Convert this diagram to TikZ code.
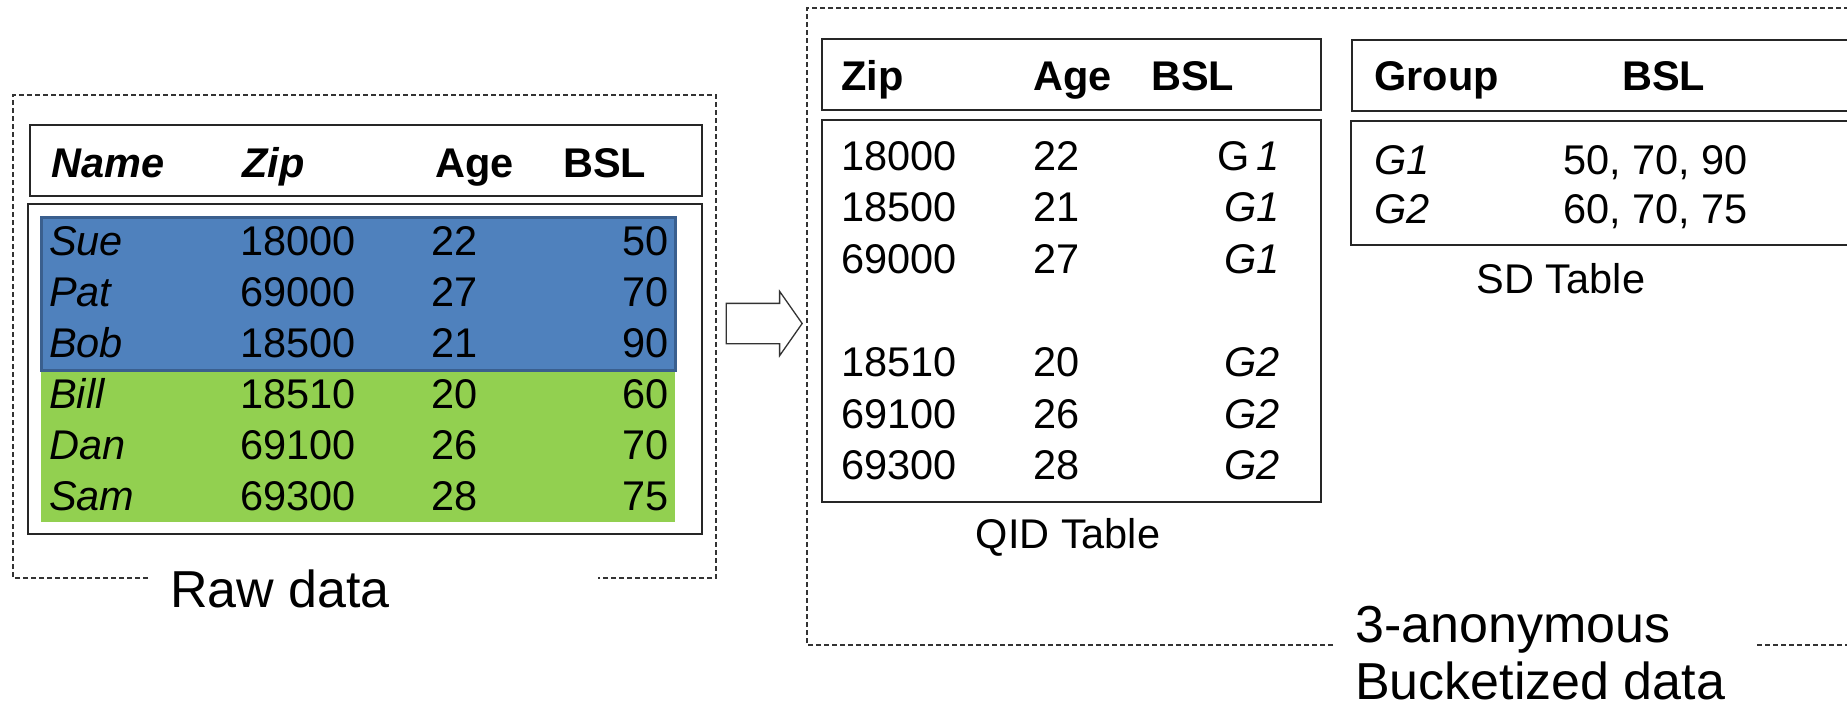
\documentclass[tikz,border=0pt]{standalone}
\usepackage{fontspec}
\setmainfont{Liberation Sans}
\usepackage{xcolor}
\usetikzlibrary{shapes.arrows,positioning,fit}

\definecolor{grpblue}{HTML}{4F81BD}
\definecolor{grpblueedge}{HTML}{3A5F8E}
\definecolor{grpgreen}{HTML}{92D050}

\begin{document}
\begin{tikzpicture}[
  x=1pt, y=-1pt,
  tbl/.style={draw=black!85, line width=2pt, inner sep=0pt},
  grp/.style={fill=#1, inner sep=0pt},
  frame/.style={draw=black!80, line width=1.3pt, dash pattern=on 5pt off 3pt},
  cell/.style={inner sep=0pt, font=\fontsize{41.5}{50}\selectfont},
  hd/.style={inner sep=0pt, font=\fontsize{41.5}{50}\selectfont\bfseries},
  biglbl/.style={inner sep=0pt, font=\fontsize{52}{63}\selectfont}
]
  \clip (0,0) rectangle (1847,704);

  % raw data
  \draw[frame] (148,578) -| (13,95) -| (716,578) -- (598,578);
  \node[tbl, fit={(30,125) (702,196)}]  (rawhead) {};
  \node[tbl, fit={(28,204) (702,534)}]  (rawbody) {};
  \node[grp=grpgreen, fit={(41,370) (675,522)}] (grp2) {};
  \node[grp=grpblue, draw=grpblueedge, line width=3pt, fit={(41,217) (675,370)}] (grp1) {};

  \node[hd, anchor=base west] (hname) at (51,177)  {\textit{Name}};
  \node[hd, anchor=base west] (hzip)  at (242,177) {\textit{Zip}};
  \node[hd, anchor=base west] (hage)  at (435,177) {Age};
  \node[hd, anchor=base west] (hbsl)  at (563,177) {BSL};

  \foreach \nm/\zp/\ag/\bs [count=\i from 0] in
      {Sue/18000/22/50, Pat/69000/27/70, Bob/18500/21/90,
       Bill/18510/20/60, Dan/69100/26/70, Sam/69300/28/75} {
    \node[cell, anchor=base west] (rawname\i) at (49, {255+51*\i})  {\textit{\nm}};
    \node[cell, anchor=base west] (rawzip\i)  at (240, {255+51*\i}) {\zp};
    \node[cell, anchor=base west] (rawage\i)  at (431, {255+51*\i}) {\ag};
    \node[cell, anchor=base east] (rawbsl\i)  at (669, {255+51*\i}) {\bs};
  }
  \node[biglbl, anchor=base west] (rawlbl) at (170,607) {Raw data};

  % block arrow
  \node[single arrow, draw=black!80, line width=1.3pt, inner xsep=0pt, inner ysep=19.5pt,
        minimum height=76pt, anchor=tail,
        single arrow head extend=12pt, single arrow tip angle=110] (toarrow) at (725.5,323.5) {};

  % bucketized data
  \draw[frame] (1333,645) -- (807,645) -- (807,8) -- (1900,8);
  \draw[frame] (1757,645) -- (1900,645);

  \node[tbl, fit={(822,39) (1321,110)}]  (qidhead) {};
  \node[tbl, fit={(822,120) (1321,502)}] (qidbody) {};
  \node[hd, anchor=base west] (qzip) at (841,90)  {Zip};
  \node[hd, anchor=base west] (qage) at (1033,90) {Age};
  \node[hd, anchor=base west] (qbsl) at (1151,90) {BSL};
  \foreach \zp/\ag/\gid/\k in
      {18000/22/{G\,\textit{1}}/0, 18500/21/{\textit{G1}}/1, 69000/27/{\textit{G1}}/2,
       18510/20/{\textit{G2}}/4, 69100/26/{\textit{G2}}/5, 69300/28/{\textit{G2}}/6} {
    \node[cell, anchor=base west] (qidzip\k) at (841, {170+51.6*\k})  {\zp};
    \node[cell, anchor=base west] (qidage\k) at (1033, {170+51.6*\k}) {\ag};
    \node[cell, anchor=base east] (qidgrp\k) at (1280, {170+51.6*\k}) {\gid};
  }
  \node[cell, anchor=base] (qidlbl) at (1068,548) {QID Table};

  \node[tbl, fit={(1352,40) (1900,111)}]  (sdhead) {};
  \node[tbl, fit={(1351,121) (1900,245)}] (sdbody) {};
  \node[hd, anchor=base west] (sgroup) at (1374,90) {Group};
  \node[hd, anchor=base west] (sbsl)   at (1622,90) {BSL};
  \node[cell, anchor=base west] (sdg1)  at (1374,174) {\textit{G1}};
  \node[cell, anchor=base west] (sdv1)  at (1563,174) {50, 70, 90};
  \node[cell, anchor=base west] (sdg2)  at (1374,223) {\textit{G2}};
  \node[cell, anchor=base west] (sdv2)  at (1563,223) {60, 70, 75};
  \node[cell, anchor=base] (sdlbl) at (1561,293) {SD Table};

  \node[biglbl, anchor=base west] (anonlbl) at (1355,642) {3-anonymous};
  \node[biglbl, anchor=base west] (bucklbl) at ([yshift=-57pt]anonlbl.base west) {Bucketized data};
\end{tikzpicture}
\end{document}
